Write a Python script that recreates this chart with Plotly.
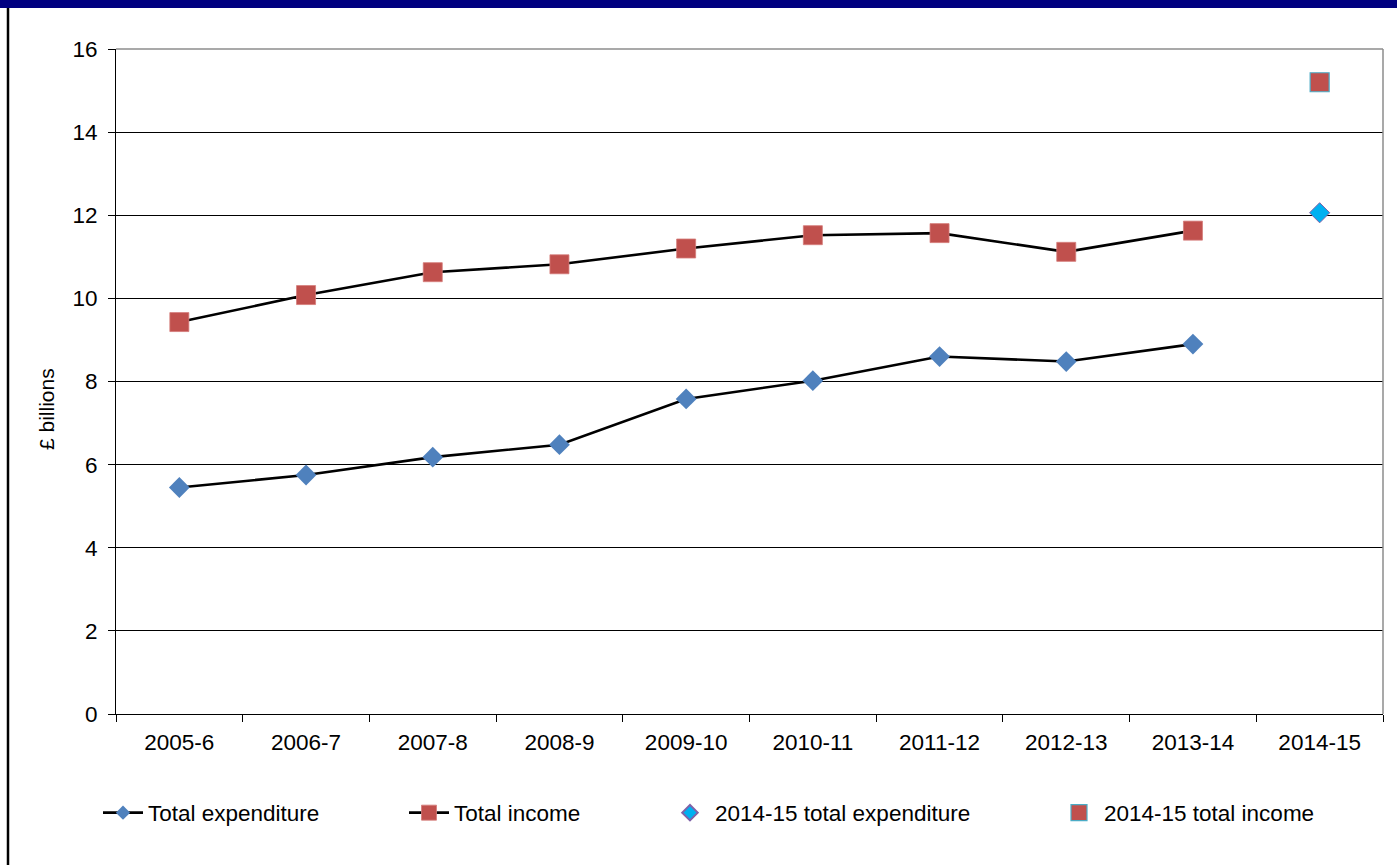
import plotly.graph_objects as go

# Financial years on the category axis
years = ["2005-6", "2006-7", "2007-8", "2008-9", "2009-10",
         "2010-11", "2011-12", "2012-13", "2013-14", "2014-15"]

# £ billions, 2005-6 to 2013-14
expenditure = [5.45, 5.75, 6.18, 6.48, 7.58, 8.02, 8.6, 8.48, 8.9]
income = [9.43, 10.08, 10.63, 10.82, 11.2, 11.52, 11.57, 11.12, 11.63]

# 2014-15 figures shown as separate points
year_2014 = ["2014-15"]
expenditure_2014 = [12.06]
income_2014 = [15.2]

y_ticks = [0, 2, 4, 6, 8, 10, 12, 14, 16]

W, H = 1397, 865
M_L, M_R, M_T, M_B = 116, 14, 49, 151
PW, PH = W - M_L - M_R, H - M_T - M_B

FONT = "Arial, 'Liberation Sans', sans-serif"
BLUE = "#4F81BD"
RED = "#C0504D"
LINE_W = 2.6

fig = go.Figure()

# Data series (legend keys are added separately with smaller symbols)
fig.add_trace(go.Scatter(
    x=years[:len(expenditure)], y=expenditure, name="Total expenditure",
    mode="lines+markers", legendgroup="exp", showlegend=False,
    line=dict(color="black", width=LINE_W),
    marker=dict(symbol="diamond", size=16, color=BLUE, line=dict(width=0)),
))
fig.add_trace(go.Scatter(
    x=years[:len(income)], y=income, name="Total income",
    mode="lines+markers", legendgroup="inc", showlegend=False,
    line=dict(color="black", width=LINE_W),
    marker=dict(symbol="square", size=19, color=RED,
                line=dict(width=0.8, color="#D47B78")),
))

# Legend keys for the two line series
fig.add_trace(go.Scatter(
    x=[None], y=[None], name="Total expenditure",
    mode="lines+markers", legendgroup="exp", legend="legend",
    line=dict(color="black", width=LINE_W),
    marker=dict(symbol="diamond", size=11, color=BLUE, line=dict(width=0)),
))
fig.add_trace(go.Scatter(
    x=[None], y=[None], name="Total income",
    mode="lines+markers", legendgroup="inc", legend="legend2",
    line=dict(color="black", width=LINE_W),
    marker=dict(symbol="square", size=15, color=RED,
                line=dict(width=0.8, color="#D47B78")),
))

fig.add_trace(go.Scatter(
    x=year_2014, y=expenditure_2014, name="2014-15 total expenditure",
    mode="markers",
    marker=dict(symbol="diamond", size=15.5, color="#00B0F0",
                line=dict(width=1, color="#7F62A8")),
    legend="legend3",
))
fig.add_trace(go.Scatter(
    x=year_2014, y=income_2014, name="2014-15 total income",
    mode="markers",
    marker=dict(symbol="square", size=19, color=RED,
                line=dict(width=1.2, color="#4BACC6")),
    legend="legend4",
))

legend_common = dict(
    orientation="h", xref="container", yref="container",
    xanchor="left", yanchor="middle", y=1 - 813 / H,
    font=dict(family=FONT, size=22.5, color="black"),
    bgcolor="rgba(0,0,0,0)", borderwidth=0, itemwidth=40,
)
text_starts = [148, 454, 715, 1104]
legend_names = ["legend", "legend2", "legend3", "legend4"]
sizing = ["trace", "trace", "constant", "trace"]
for name, tx, sz in zip(legend_names, text_starts, sizing):
    fig.update_layout({name: dict(legend_common, x=(tx - 50) / W, itemsizing=sz)})

fig.update_xaxes(
    type="category", categoryorder="array", categoryarray=years,
    range=[-0.5, len(years) - 0.5],
    showline=True, linecolor="black", linewidth=1,
    ticks="outside", ticklen=7, tickcolor="black", tickwidth=1,
    tickson="boundaries", showgrid=False, zeroline=False,
    tickfont=dict(family=FONT, size=22.5, color="black"),
    ticklabelstandoff=8,
)
fig.update_yaxes(
    range=[0, 16], tickvals=y_ticks, ticktext=[str(v) for v in y_ticks],
    showline=True, linecolor="black", linewidth=1,
    ticks="outside", ticklen=7, tickcolor="black", tickwidth=1,
    showgrid=True, gridcolor="black", gridwidth=1, zeroline=False,
    tickfont=dict(family=FONT, size=22.5, color="black"),
    ticklabelstandoff=6,
)

shapes = [
    # plot area frame (top and right edges)
    dict(type="line", xref="paper", yref="paper", x0=0, x1=1, y0=1, y1=1,
         line=dict(color="#8C8C8C", width=1.5)),
    dict(type="line", xref="paper", yref="paper", x0=1, x1=1, y0=0, y1=1,
         line=dict(color="#8C8C8C", width=1.5)),
    # header band
    dict(type="rect", xref="paper", yref="paper",
         x0=-M_L / PW, x1=(W - M_L) / PW,
         y0=1 + (M_T - 8) / PH, y1=1 + (M_T + 2) / PH,
         fillcolor="#000080", line=dict(width=0), layer="above"),
    # outer frame left edge
    dict(type="line", xref="paper", yref="paper",
         x0=(8 - M_L) / PW, x1=(8 - M_L) / PW,
         y0=-(M_B + 5) / PH, y1=1 + (M_T - 8) / PH,
         line=dict(color="black", width=2.5)),
]

fig.update_layout(
    width=W, height=H,
    margin=dict(l=M_L, r=M_R, t=M_T, b=M_B, pad=0),
    paper_bgcolor="white", plot_bgcolor="white",
    font=dict(family=FONT, color="black"),
    shapes=shapes,
    annotations=[dict(
        text="£ billions", xref="paper", yref="paper",
        x=(46 - M_L) / PW, y=(714 - 409) / PH,
        xanchor="center", yanchor="middle", textangle=-90, showarrow=False,
        font=dict(family=FONT, size=21, color="black"),
    )],
    showlegend=True,
)

fig.write_html("out.html")
